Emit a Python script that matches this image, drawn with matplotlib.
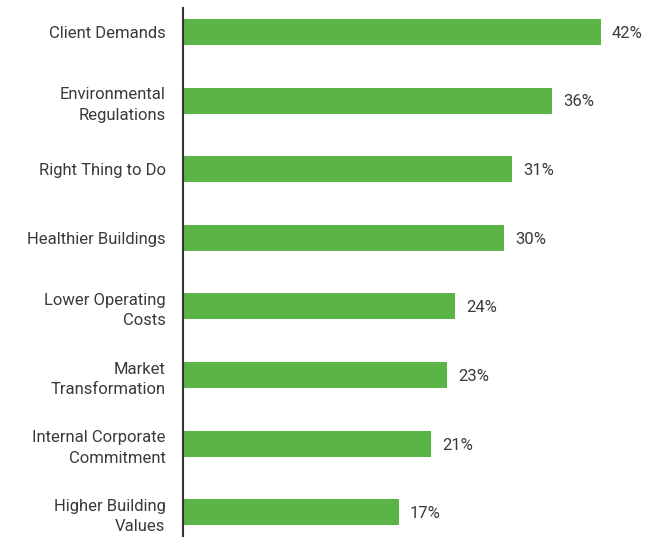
import matplotlib
matplotlib.use("Agg")
import matplotlib.pyplot as plt
import numpy as np

plt.rcParams['font.family'] = ['Roboto', 'DejaVu Sans']

categories = ['Client Demands', 'Environmental\nRegulations', 'Right Thing to Do',
              'Healthier Buildings', 'Lower Operating\nCosts', 'Market\nTransformation',
              'Internal Corporate\nCommitment', 'Higher Building\nValues']
values = [42, 36, 31, 30, 24, 23, 21, 17]

GREEN = '#5bb446'
TEXT = '#3a3a3a'
X0 = -9.7  # axis does not start at zero in the original

fig = plt.figure(figsize=(6.6, 5.37), dpi=100)
ax = fig.add_axes([183 / 660, 0, (650 - 183) / 660, 529 / 537])

y = np.arange(len(categories))
vals = np.array(values)
ax.barh(y, vals - X0, left=X0, height=0.38, color=GREEN)

for yi, v in zip(y, vals):
    ax.text(v + 1.4, yi + 0.02, f'{v}%', va='center', ha='left', fontsize=12, color=TEXT)

ax.set_xlim(X0, 48.1)
ax.set_ylim(7.36, -0.35)
ax.set_yticks(y)
ax.set_yticklabels(categories, fontsize=12, color=TEXT, linespacing=1.45)
ax.tick_params(axis='y', length=0, pad=12.5)
ax.set_xticks([])
for s in ['top', 'right', 'bottom']:
    ax.spines[s].set_visible(False)
ax.spines['left'].set_color('#333333')
ax.spines['left'].set_linewidth(1.5)

fig.savefig('out.png', dpi=100)
